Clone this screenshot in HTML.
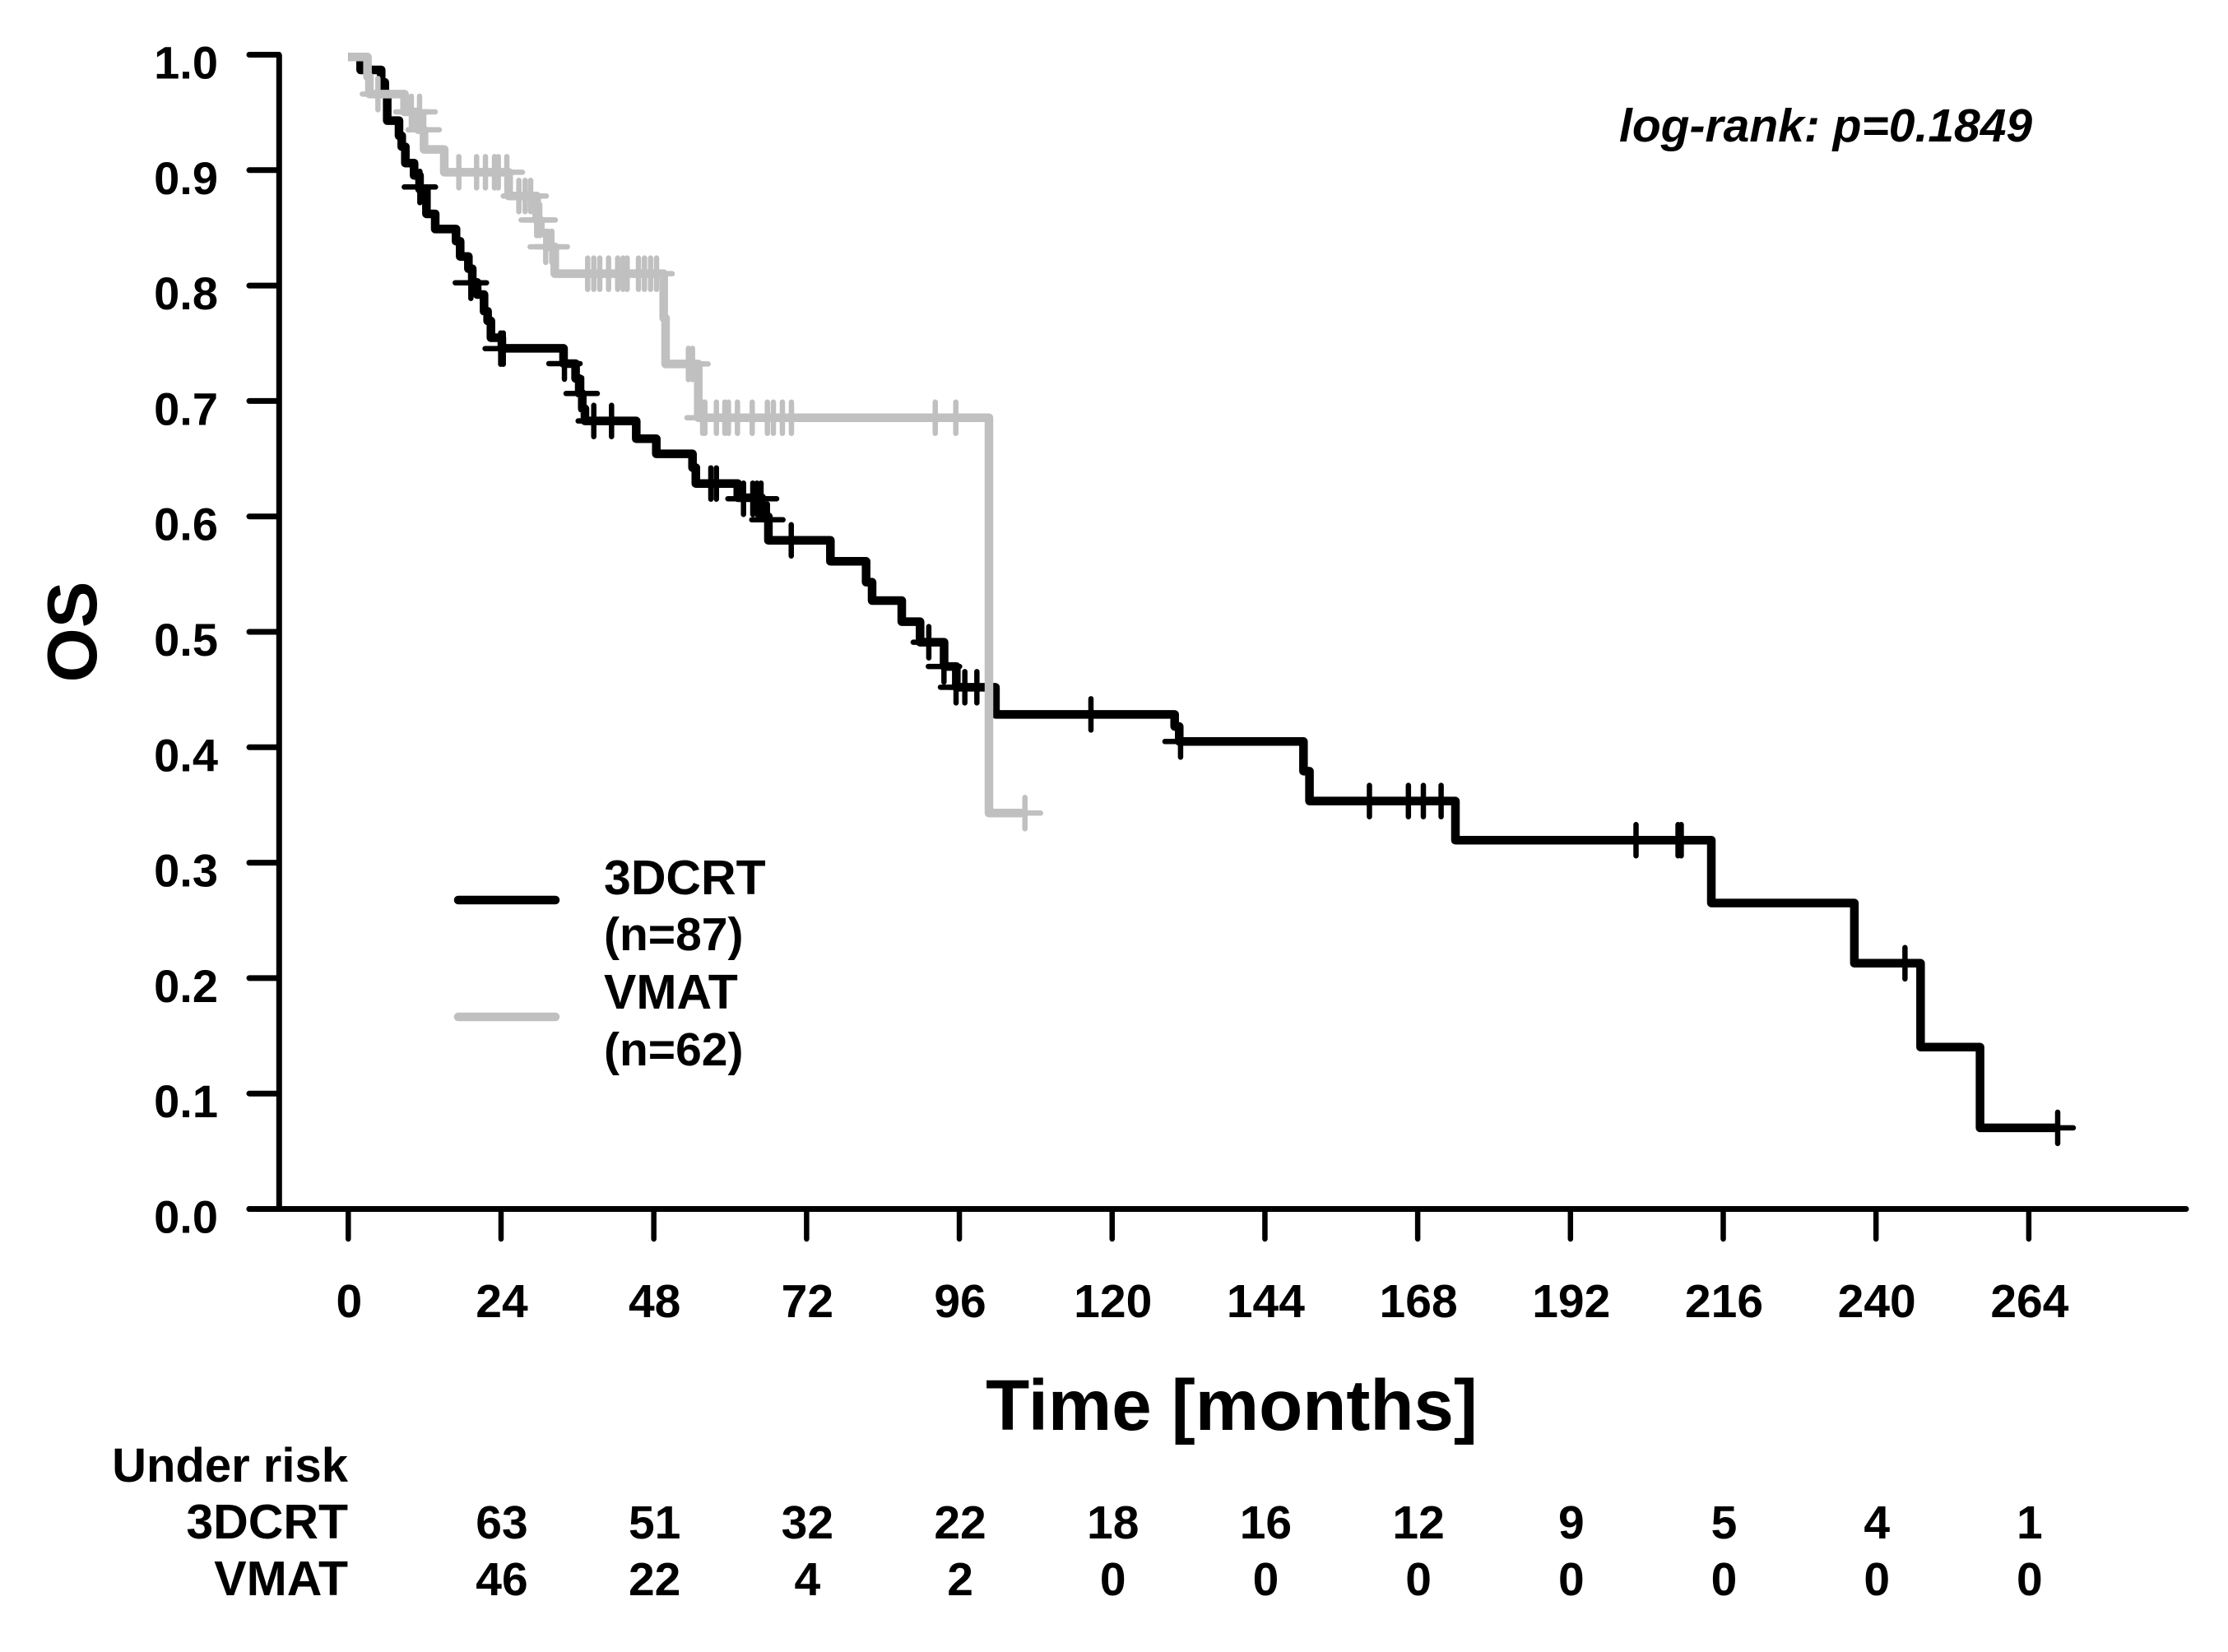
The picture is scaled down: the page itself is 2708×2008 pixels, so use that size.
<!DOCTYPE html>
<html lang="en">
<head>
<meta charset="utf-8">
<title>Overall survival Kaplan-Meier chart</title>
<style>
html,body{margin:0;padding:0;background:#fff;}
svg{display:block;}
text{font-family:"Liberation Sans",Arial,sans-serif;font-weight:700;fill:#000;}
</style>
</head>
<body>
<svg id="chart" xmlns="http://www.w3.org/2000/svg" width="2708" height="2008" viewBox="0 0 2708 2008">
  <rect x="0" y="0" width="2708" height="2008" fill="#ffffff"/>
  <g id="axes"></g>
  <g id="black-series"></g>
  <g id="gray-series"></g>
  <g id="risk-table">
    <text x="423" y="1801" font-size="58" text-anchor="end">Under risk</text>
    <text x="423" y="1870" font-size="59" text-anchor="end">3DCRT</text>
    <text x="423" y="1939" font-size="59" text-anchor="end">VMAT</text>
  </g>
  <text transform="translate(117,768) rotate(-90)" font-size="85" text-anchor="middle">OS</text>
  <text x="1497" y="1738" font-size="87" text-anchor="middle">Time [months]</text>
  <text x="1968" y="172" font-size="57" font-style="italic">log-rank: p=0.1849</text>
  <g>
    <line x1="557" y1="1094" x2="675" y2="1094" stroke="#000" stroke-width="10.5" stroke-linecap="round"/>
    <text x="734" y="1087" font-size="59">3DCRT</text>
    <text x="734" y="1155" font-size="57">(n=87)</text>
    <line x1="557" y1="1236" x2="675" y2="1236" stroke="#c0c0c0" stroke-width="10.5" stroke-linecap="round"/>
    <text x="734" y="1226" font-size="59">VMAT</text>
    <text x="734" y="1295" font-size="57">(n=62)</text>
  </g>
</svg>
<script>
// ---- chart data ----
const xTickValues = [0,24,48,72,96,120,144,168,192,216,240,264];
const yTickValues = [0,0.1,0.2,0.3,0.4,0.5,0.6,0.7,0.8,0.9,1.0];
const yTickLabels = ["0.0","0.1","0.2","0.3","0.4","0.5","0.6","0.7","0.8","0.9","1.0"];
const riskTimes = [24,48,72,96,120,144,168,192,216,240,264];
const risk3dcrt = [63,51,32,22,18,16,12,9,5,4,1];
const riskVmat = [46,22,4,2,0,0,0,0,0,0,0];

const times3dcrt = [0,1.94,5.17,5.74,6.12,7.97,8.40,8.97,10.34,11.2,12.28,13.66,16.93,17.58,18.87,19.48,20.25,21.33,21.89,22.41,24.13,33.82,35.71,36.28,36.76,37.18,45.24,48.39,54.08,54.6,61.19,64.96,66.0,75.74,81.35,82.29,86.95,89.83,93.6,95.52,101.67,129.82,130.54,150.06,151.0,173.93,214.13,236.6,247.0,256.34];
const surv3dcrt = [0.998,0.9868,0.9761,0.9666,0.9429,0.9298,0.9203,0.9061,0.8954,0.8835,0.8621,0.8490,0.8384,0.8252,0.8146,0.8027,0.7922,0.7778,0.7694,0.7548,0.7456,0.7324,0.7195,0.7065,0.6933,0.6827,0.6673,0.6542,0.6423,0.6285,0.6162,0.5998,0.5793,0.5611,0.5430,0.5271,0.5088,0.4910,0.4700,0.4520,0.4285,0.4180,0.4050,0.3793,0.3534,0.3195,0.2651,0.2129,0.1402,0.0703];
const end3dcrt = 268.5;
const censorTimes3dcrt = [11.25,19.26,23.95,24.35,33.96,36.67,38.57,41.36,56.96,57.83,62.09,63.55,64.2,64.84,65.84,69.59,91.2,93.58,95.48,96.86,98.75,116.67,130.75,160.42,166.54,168.89,171.68,202.3,208.9,209.4,244.55,268.54];
const censorSurv3dcrt = [0.8854,0.8024,0.7454,0.7454,0.7324,0.7065,0.6827,0.6827,0.6285,0.6285,0.6153,0.6153,0.6153,0.6153,0.5971,0.5793,0.4910,0.4700,0.4520,0.4520,0.4520,0.4285,0.4050,0.3534,0.3534,0.3534,0.3534,0.3195,0.3195,0.3195,0.2129,0.0703];

const timesVmat = [0,3.02,3.32,8.84,10.99,11.9,15.08,25.2,29.6,30.17,31.46,32.44,49.55,49.85,54.98,100.65];
const survVmat = [0.998,0.9809,0.9659,0.9505,0.9350,0.9179,0.8982,0.8776,0.8568,0.8455,0.8336,0.8103,0.7718,0.7321,0.6855,0.3430];
const endVmat = 106.3;
const censorTimesVmat = [4.66,9.91,11.2,11.85,17.37,20.16,21.55,22.97,23.57,24.91,26.8,27.79,28.65,29.6,30.08,31.02,31.98,37.61,38.57,39.51,40.89,42.32,43.17,43.81,45.59,46.53,47.49,48.43,53.43,54.08,55.67,56.02,57.83,59.16,59.72,61.14,63.46,65.84,66.78,68.2,69.62,92.21,95.44,106.3];
const censorSurvVmat = [0.9659,0.9505,0.9505,0.9350,0.8982,0.8982,0.8982,0.8982,0.8982,0.8982,0.8776,0.8776,0.8776,0.8568,0.8568,0.8336,0.8336,0.8103,0.8103,0.8103,0.8103,0.8103,0.8103,0.8103,0.8103,0.8103,0.8103,0.8103,0.7321,0.7321,0.6855,0.6855,0.6855,0.6855,0.6855,0.6855,0.6855,0.6855,0.6855,0.6855,0.6855,0.6855,0.6855,0.3430];

// ---- axis functions ----
function xScale(t){ return 423.3 + 7.737 * t; }
function yScale(v){ return 1469.5 - 1403 * v; }

const NS = "http://www.w3.org/2000/svg";
function shape(parent, tag, attrs){
  const el = document.createElementNS(NS, tag);
  for (const k in attrs) el.setAttribute(k, attrs[k]);
  parent.appendChild(el);
  return el;
}

const axes = document.getElementById("axes");
const riskTable = document.getElementById("risk-table");

const yAxisLine = shape(axes, "line", {x1:339.3, y1:yScale(1), x2:339.3, y2:yScale(0), stroke:"#000", "stroke-width":7});


const xAxisLine = shape(axes, "line", {x1:303, y1:yScale(0), x2:2657, y2:yScale(0), stroke:"#000", "stroke-width":7, "stroke-linecap":"round"});



yTickValues.forEach(function(v, i){
  const tick = shape(axes, "line", {x1:303, y1:yScale(v), x2:339, y2:yScale(v), stroke:"#000", "stroke-width":7, "stroke-linecap":"round"});
  
  
  const label = shape(axes, "text", {x:265, y:yScale(v)+29, "font-size":56, "text-anchor":"end"});
  label.textContent = yTickLabels[i];
  
  
});

xTickValues.forEach(function(t){
  const tick = shape(axes, "line", {x1:xScale(t), y1:yScale(0), x2:xScale(t), y2:1506, stroke:"#000", "stroke-width":6.5, "stroke-linecap":"round"});
  
  
  const label = shape(axes, "text", {x:xScale(t)+1, y:1601, "font-size":57, "text-anchor":"middle"});
  label.textContent = String(t);
  
  
});

riskTimes.forEach(function(t, i){
  const a = shape(riskTable, "text", {x:xScale(t)+1, y:1870, "font-size":57, "text-anchor":"middle"});
  a.textContent = String(risk3dcrt[i]);
  
  
  const b = shape(riskTable, "text", {x:xScale(t)+1, y:1939, "font-size":57, "text-anchor":"middle"});
  b.textContent = String(riskVmat[i]);
  
  
});

function stepPath(times, surv, end){
  let d = "M" + xScale(times[0]) + " " + yScale(surv[0]);
  for (let i = 1; i < times.length; i++){
    d += " L" + xScale(times[i]) + " " + yScale(surv[i-1]);
    d += " L" + xScale(times[i]) + " " + yScale(surv[i]);
  }
  d += " L" + xScale(end) + " " + yScale(surv[surv.length-1]);
  return d;
}

const blackGroup = document.getElementById("black-series");
const grayGroup = document.getElementById("gray-series");

const blackCurve = shape(blackGroup, "path", {d:stepPath(times3dcrt, surv3dcrt, end3dcrt), fill:"none", stroke:"#000", "stroke-width":10.5, "stroke-linejoin":"round"});


const grayCurve = shape(grayGroup, "path", {d:stepPath(timesVmat, survVmat, endVmat), fill:"none", stroke:"#c0c0c0", "stroke-width":10.5, "stroke-linejoin":"round"});



function drawCensor(parent, t, v, color){
  const cx = xScale(t), cy = yScale(v);
  const d = "M" + (cx-19) + " " + cy + " H" + (cx+19) + " M" + cx + " " + (cy-19) + " V" + (cy+19);
  return shape(parent, "path", {d:d, fill:"none", stroke:color, "stroke-width":6.5, "stroke-linecap":"round"});
}

censorTimes3dcrt.forEach(function(t, i){
  const m = drawCensor(blackGroup, t, censorSurv3dcrt[i], "#000");
  
  
});
censorTimesVmat.forEach(function(t, i){
  const m = drawCensor(grayGroup, t, censorSurvVmat[i], "#c0c0c0");
  
  
});
</script>
</body>
</html>
